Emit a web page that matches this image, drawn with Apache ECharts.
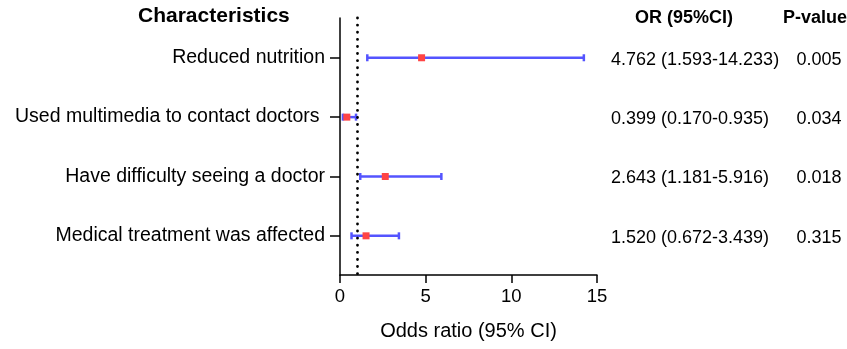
<!DOCTYPE html>
<html>
<head>
<meta charset="utf-8">
<script src="https://cdn.jsdelivr.net/npm/echarts@6/dist/echarts.min.js"></script>
<style>
  html, body { margin: 0; padding: 0; background: #fff; }
  #main { width: 847px; height: 349px; }
</style>
</head>
<body>
<div id="main"></div>
<script>
// 数据
const categories = [
  "Reduced nutrition",
  "Used multimedia to contact doctors ",
  "Have difficulty seeing a doctor",
  "Medical treatment was affected"
];
const orValues = [4.762, 0.399, 2.643, 1.52];
const lowerCI = [1.593, 0.17, 1.181, 0.672];
const upperCI = [14.233, 0.935, 5.916, 3.439];
const orText = ["4.762 (1.593-14.233)", "0.399 (0.170-0.935)", "2.643 (1.181-5.916)", "1.520 (0.672-3.439)"];
const pValues = ["0.005", "0.034", "0.018", "0.315"];
const xTicks = [0, 5, 10, 15];

const font = "Liberation Sans, Arial, sans-serif";
const blue = "#5454ff";
const red = "#ff4444";

let myChart = echarts.init(document.getElementById("main"));

let barData = categories.map((c, i) => [lowerCI[i], upperCI[i], i + 1]);
let pointData = categories.map((c, i) => [orValues[i], i + 1]);
let textData = categories.map((c, i) => [0, i + 1]);

let option = {
  animation: false,
  grid: { left: 340, right: 250, top: 18, bottom: 74 },
  xAxis: {
    type: "value",
    min: 0,
    max: 15,
    interval: 5,
    name: "Odds ratio (95% CI)",
    nameLocation: "middle",
    nameGap: 46,
    nameTextStyle: { color: "#000", fontSize: 20, fontFamily: font },
    axisLine: { show: true, lineStyle: { color: "#000", width: 1.5 } },
    axisTick: { show: true, length: 8, lineStyle: { color: "#000", width: 1.5 } },
    axisLabel: { color: "#000", fontSize: 18.5, fontFamily: font, margin: 12 },
    splitLine: { show: false }
  },
  yAxis: {
    type: "value",
    min: 0.33,
    max: 4.66,
    inverse: true,
    axisLine: { show: true, lineStyle: { color: "#000", width: 1.5 } },
    axisTick: { show: true, length: 10, customValues: [1, 2, 3, 4], lineStyle: { color: "#000", width: 1.5 } },
    axisLabel: {
      customValues: [1, 2, 3, 4],
      formatter: v => categories[Math.round(v) - 1],
      color: "#000",
      fontSize: 19.5,
      fontFamily: font,
      margin: 15
    },
    splitLine: { show: false }
  },
  graphic: [
    {
      type: "text",
      left: 138,
      top: 6,
      style: { text: "Characteristics", font: "bold 21px " + font, fill: "#000" }
    },
    {
      type: "text",
      left: 635,
      top: 9,
      style: { text: "OR (95%CI)", font: "bold 18px " + font, fill: "#000" }
    },
    {
      type: "text",
      left: 783,
      top: 9,
      style: { text: "P-value", font: "bold 18px " + font, fill: "#000" }
    }
  ],
  series: [
    {
      type: "custom",
      clip: false,
      data: barData,
      encode: { x: [0, 1], y: 2 },
      renderItem: (params, api) => {
        let p1 = api.coord([api.value(0), api.value(2)]);
        let p2 = api.coord([api.value(1), api.value(2)]);
        let h = 3.5;
        let style = { stroke: blue, lineWidth: 2.5 };
        return {
          type: "group",
          children: [
            { type: "line", shape: { x1: p1[0], y1: p1[1], x2: p2[0], y2: p2[1] }, style: style },
            { type: "line", shape: { x1: p1[0], y1: p1[1] - h, x2: p1[0], y2: p1[1] + h }, style: style },
            { type: "line", shape: { x1: p2[0], y1: p2[1] - h, x2: p2[0], y2: p2[1] + h }, style: style }
          ]
        };
      },
      markLine: {
        silent: true,
        symbol: "none",
        label: { show: false },
        lineStyle: { color: "#000", type: [0.1, 7], width: 2.8, cap: "round" },
        data: [{ xAxis: 1 }]
      },
      z: 2
    },
    {
      type: "scatter",
      data: pointData,
      symbol: "rect",
      symbolSize: 7,
      itemStyle: { color: red, opacity: 1 },
      z: 3
    },
    {
      type: "custom",
      clip: false,
      data: textData,
      encode: { x: 0, y: 1 },
      renderItem: (params, api) => {
        let p = api.coord([0, api.value(1)]);
        return {
          type: "group",
          children: [
            {
              type: "text",
              x: 611,
              y: p[1] + 2,
              style: { text: orText[params.dataIndex], font: "18px " + font, fill: "#000", textAlign: "left", textVerticalAlign: "middle" }
            },
            {
              type: "text",
              x: 819,
              y: p[1] + 2,
              style: { text: pValues[params.dataIndex], font: "18px " + font, fill: "#000", textAlign: "center", textVerticalAlign: "middle" }
            }
          ]
        };
      }
    }
  ]
};

myChart.setOption(option, true);
</script>
</body>
</html>
